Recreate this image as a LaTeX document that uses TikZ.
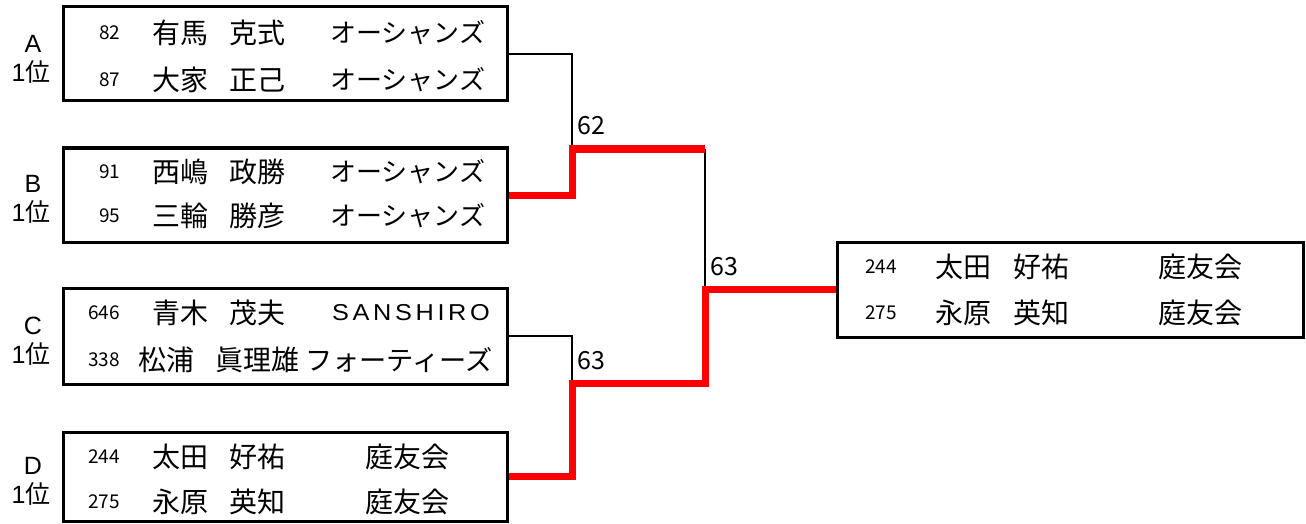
\documentclass[tikz,border=0pt]{standalone}
\usepackage{fontspec}
\usepackage{graphicx}
\setmainfont{Noto Sans CJK JP}
\newfontfamily\lat{Liberation Sans}
\newcommand{\sanshiro}{\scalebox{1.1}[1]{S\kern3.3pt A\kern3.3pt N\kern3.3pt S\kern3.3pt H\kern3.3pt I\kern3.3pt R\kern3.3pt O}}
\begin{document}
\begin{tikzpicture}[x=1pt,y=-1pt,
  box/.style={draw,line width=3pt,minimum width=444pt,inner sep=0pt},
  jp/.style={anchor=west,inner sep=0pt,font=\fontsize{26}{26}\selectfont},
  nm/.style={anchor=west,inner sep=0pt,font=\fontsize{28}{28}\selectfont},
  num/.style={anchor=west,inner sep=0pt,font=\fontsize{19}{19}\selectfont},
  side/.style={inner sep=0pt,font=\fontsize{25}{25}\selectfont},
  score/.style={anchor=west,inner sep=0pt,font=\fontsize{25}{25}\selectfont},
  win/.style={draw=red,line width=7pt,line join=miter},
  lose/.style={draw=black,line width=2pt}]
\useasboundingbox (0,0) rectangle (1306,524);
% boxes
\node[box,minimum height=94pt] (bA) at (285,54) {};
\node[box,minimum height=94pt] (bB) at (285,195) {};
\node[box,minimum height=96pt] (bC) at (285,336) {};
\node[box,minimum height=89pt] (bD) at (285,476.5) {};
\node[box,minimum width=466pt,minimum height=95pt] (bE) at (1070,289.5) {};
% side labels
\node[side] (lA1) at (33,44) {\lat A};   \node[side] (lA2) at (31,72) {{\lat 1}位};
\node[side] (lB1) at (33,184) {\lat B};  \node[side] (lB2) at (31,212) {{\lat 1}位};
\node[side] (lC1) at (33,326) {\lat C};  \node[side] (lC2) at (31,354) {{\lat 1}位};
\node[side] (lD1) at (33,466) {\lat D};  \node[side] (lD2) at (31,494) {{\lat 1}位};
% box A
\node[num] (a1n) at (99,33) {82}; \node[nm] (a1f) at (152,33) {有馬}; \node[nm] (a1g) at (229,33) {克式}; \node[jp] (a1t) at (330,33) {オーシャンズ};
\node[num] (a2n) at (99,80) {87}; \node[nm] (a2f) at (152,80) {大家}; \node[nm] (a2g) at (229,80) {正己}; \node[jp] (a2t) at (330,80) {オーシャンズ};
% box B
\node[num] (b1n) at (99,172) {91}; \node[nm] (b1f) at (152,172) {西嶋}; \node[nm] (b1g) at (229,172) {政勝}; \node[jp] (b1t) at (330,172) {オーシャンズ};
\node[num] (b2n) at (99,216) {95}; \node[nm] (b2f) at (152,216) {三輪}; \node[nm] (b2g) at (229,216) {勝彦}; \node[jp] (b2t) at (330,216) {オーシャンズ};
% box C
\node[num] (c1n) at (88,313) {646}; \node[nm] (c1f) at (152,313) {青木}; \node[nm] (c1g) at (229,313) {茂夫}; \node[anchor=west,inner sep=0pt,font=\lat\fontsize{23}{23}\selectfont] (c1t) at (332,313) {\sanshiro};
\node[num] (c2n) at (88,360) {338}; \node[nm] (c2f) at (138,360) {松浦}; \node[nm] (c2g) at (215,360) {眞理雄}; \node[jp,font=\fontsize{27.2}{27.2}\selectfont] (c2t) at (305,360) {フォーティーズ};
% box D
\node[num] (d1n) at (88,457) {244}; \node[nm] (d1f) at (152,457) {太田}; \node[nm] (d1g) at (229,457) {好祐}; \node[nm] (d1t) at (365,457) {庭友会};
\node[num] (d2n) at (88,502) {275}; \node[nm] (d2f) at (152,502) {永原}; \node[nm] (d2g) at (229,502) {英知}; \node[nm] (d2t) at (365,502) {庭友会};
% box E
\node[num] (e1n) at (865,267) {244}; \node[nm] (e1f) at (935,267) {太田}; \node[nm] (e1g) at (1013,267) {好祐}; \node[nm] (e1t) at (1158,267) {庭友会};
\node[num] (e2n) at (865,313) {275}; \node[nm] (e2f) at (935,313) {永原}; \node[nm] (e2g) at (1013,313) {英知}; \node[nm] (e2t) at (1158,313) {庭友会};
% junctions
\coordinate (j1) at (572,149);
\coordinate (t1) at (705,149);
\coordinate (j2) at (705,289.5);
\coordinate (j3) at (572,383);
% connectors
\draw[lose] (bA.east) -| (j1);
\draw[lose] (bC.east) -| (j3);
\draw[lose] (t1) -- (j2);
\draw[win] (bB.east) -| (j1) -- (t1);
\draw[win] (bD.east) -| (j3) -| (j2) -- (bE.west);
% scores
\node[score] (s1) at (577,126) {62};
\node[score] (s2) at (710,267) {63};
\node[score] (s3) at (577,361) {63};
\end{tikzpicture}
\end{document}
